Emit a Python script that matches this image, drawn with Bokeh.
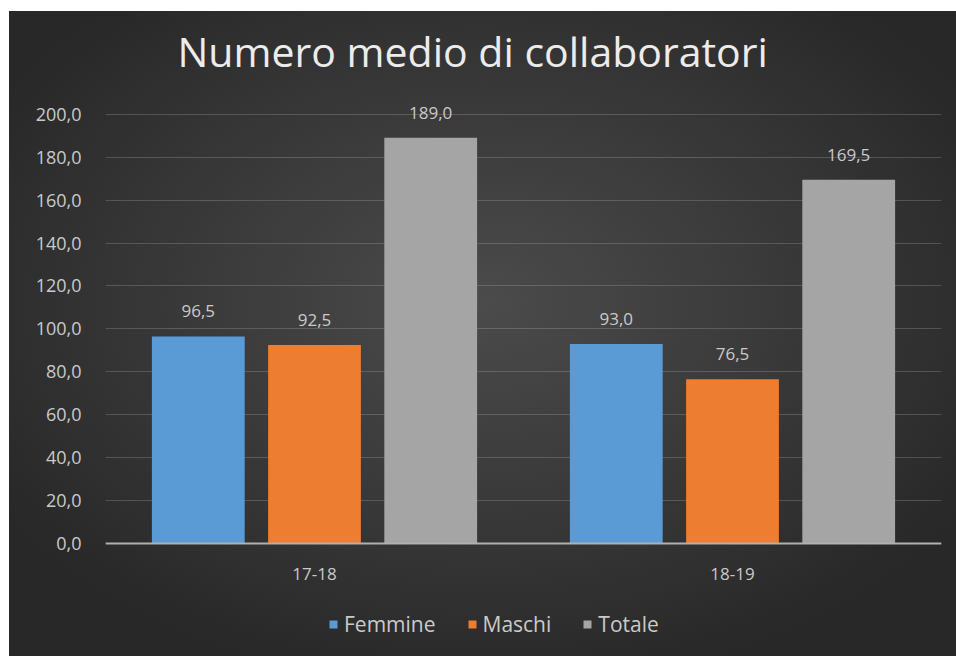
from bokeh.plotting import figure
from bokeh.models import (ColumnDataSource, FactorRange, Range1d, FixedTicker,
                          CustomJSTickFormatter, Legend, LegendItem, Span)
from bokeh.transform import dodge
from bokeh.core.properties import value
from bokeh.embed import file_html
from bokeh.resources import INLINE

# ---- data ----
categories = ["17-18", "18-19"]
femmine = [96.5, 93.0]
maschi = [92.5, 76.5]
totale = [189.0, 169.5]
series_names = ["Femmine", "Maschi", "Totale"]
y_ticks = [0, 20, 40, 60, 80, 100, 120, 140, 160, 180, 200]

def fmt(v):
    return f"{v:.1f}".replace(".", ",")

src = ColumnDataSource(dict(
    cat=categories,
    femmine=femmine, maschi=maschi, totale=totale,
    lf=[fmt(v) for v in femmine],
    lm=[fmt(v) for v in maschi],
    lt=[fmt(v) for v in totale],
))

FONT = "Open Sans"
TXT = "#cacaca"

p = figure(width=947, height=645, x_range=FactorRange(*categories),
           y_range=Range1d(-52.6, 212), output_backend="svg", toolbar_location=None,
           min_border_left=96, min_border_right=15, min_border_top=77,
           min_border_bottom=0)
p.styles = {"background": "radial-gradient(ellipse 60% 60% at 50% 45%, #4b4b4b 0%, #3a3a3a 50%, #282828 100%)",
            "margin-left": "9px", "margin-top": "11px"}
p.border_fill_color = None
p.background_fill_color = None
p.outline_line_color = None

p.title.text = "Numero medio di collaboratori"
p.title.align = "left"
p.title.offset = 72
p.title.text_font = FONT
p.title.text_font_size = "41px"
p.title.text_font_style = "normal"
p.title.text_color = "#ececec"
p.title.standoff = 19

colors = ["#5b9bd5", "#ed7d31", "#a5a5a5"]
cols = ["femmine", "maschi", "totale"]
lcols = ["lf", "lm", "lt"]
offsets = [-0.278, 0.0, 0.278]
renderers = []
for c, lc, off, col in zip(cols, lcols, offsets, colors):
    r = p.vbar(x=dodge("cat", off, range=p.x_range), top=c, width=0.222,
               source=src, fill_color=col, line_color=None)
    renderers.append(r)
    p.text(x=dodge("cat", off, range=p.x_range), y=c, text=lc, source=src,
           text_align="center", text_baseline="middle", y_offset=-25,
           text_font=value(FONT), text_font_size="17px", text_color=TXT)

# category labels under the baseline
p.text(x="cat", y=0, text="cat", source=src, text_align="center",
       text_baseline="middle", y_offset=30, text_font=value(FONT),
       text_font_size="17px", text_color=TXT)

# baseline (category axis line at 0)
p.add_layout(Span(location=0, dimension="width", line_color="#b0b0b0", line_width=2))

# axes
p.xaxis.visible = False
p.yaxis.ticker = FixedTicker(ticks=y_ticks)
p.yaxis.formatter = CustomJSTickFormatter(code="return tick.toFixed(1).replace('.', ',');")
p.yaxis.axis_line_color = None
p.yaxis.major_tick_line_color = None
p.yaxis.minor_tick_line_color = None
p.yaxis.major_label_standoff = 18
p.yaxis.major_label_text_font = FONT
p.yaxis.major_label_text_font_size = "18px"
p.yaxis.major_label_text_color = TXT

p.xgrid.grid_line_color = None
p.ygrid.grid_line_color = "#bfbfbf"
p.ygrid.grid_line_alpha = 0.25
p.ygrid.grid_line_width = 1

legend = Legend(items=[LegendItem(label=n, renderers=[r]) for n, r in zip(series_names, renderers)],
                orientation="horizontal", location=(223, 18),
                background_fill_alpha=0, border_line_color=None,
                label_text_font=FONT, label_text_font_size="21px",
                label_text_color=TXT, glyph_width=10, glyph_height=10,
                label_standoff=6, spacing=31, margin=0, padding=4)
p.add_layout(legend, "center")

open("out.html", "w").write(file_html(p, INLINE))
